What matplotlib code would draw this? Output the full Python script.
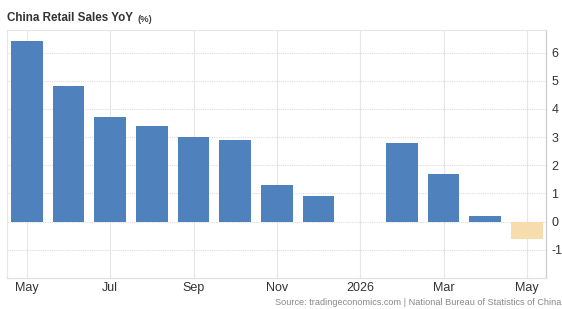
import matplotlib
matplotlib.use("Agg")
import matplotlib.pyplot as plt
import numpy as np

plt.rcParams["font.family"] = ["Liberation Sans", "DejaVu Sans"]

months = ["May 2025", "Jun 2025", "Jul 2025", "Aug 2025", "Sep 2025", "Oct 2025",
          "Nov 2025", "Dec 2025", "Jan 2026", "Feb 2026", "Mar 2026", "Apr 2026", "May 2026"]
values = [6.4, 4.8, 3.7, 3.4, 3.0, 2.9, 1.3, 0.9, np.nan, 2.8, 1.7, 0.2, -0.6]
forecast = [False] * 12 + [True]
tick_idx = [0, 2, 4, 6, 8, 10, 12]
tick_labels = ["May", "Jul", "Sep", "Nov", "2026", "Mar", "May"]
y_ticks = [-1, 0, 1, 2, 3, 4, 5, 6]

BLUE = "#4f81bd"
ORANGE = "#f7dcae"

fig = plt.figure(figsize=(5.62, 3.09), dpi=100)
ax = fig.add_axes([0.0125, 0.1003, 0.959, 0.8026])

x = np.arange(len(months))
colors = [ORANGE if f else BLUE for f in forecast]
vals = [0 if np.isnan(v) else v for v in values]
ax.bar(x, vals, width=0.76, color=colors, zorder=3)

ax.set_xlim(-0.48, 12.46)
ax.set_ylim(-2.0, 6.8)

ax.yaxis.tick_right()
ax.set_yticks(y_ticks)
ax.set_yticklabels([str(t) for t in y_ticks])
ax.set_xticks(tick_idx)
ax.set_xticklabels(tick_labels)
ax.tick_params(axis="both", length=0, labelsize=9, colors="#333333")
ax.tick_params(axis="y", pad=4)
ax.tick_params(axis="x", pad=3)

ax.grid(axis="y", color="#dddddd", linestyle=(0, (1, 1)), linewidth=0.8, zorder=0)
ax.grid(axis="x", color="#e6e6e6", linestyle="-", linewidth=0.8, zorder=0)

for s in ["top", "left"]:
    ax.spines[s].set_color("#e6e6e6")
    ax.spines[s].set_linestyle((0, (1, 1)))
    ax.spines[s].set_linewidth(0.8)
ax.spines["right"].set_color("#cccccc")
ax.spines["right"].set_linewidth(0.9)
ax.spines["bottom"].set_color("#e0e0e0")
ax.spines["bottom"].set_linewidth(0.9)

fig.text(0.0125, 0.941, "China Retail Sales YoY", fontsize=8.4, fontweight="bold",
         color="#333333", va="center", ha="left")
fig.text(0.244, 0.938, "(%)", fontsize=6.8, fontweight="bold", color="#444444",
         va="center", ha="left")
fig.text(0.999, 0.006, "Source: tradingeconomics.com | National Bureau of Statistics of China",
         fontsize=6.6, color="#888888", ha="right", va="bottom")

fig.savefig("out.png", dpi=100)
